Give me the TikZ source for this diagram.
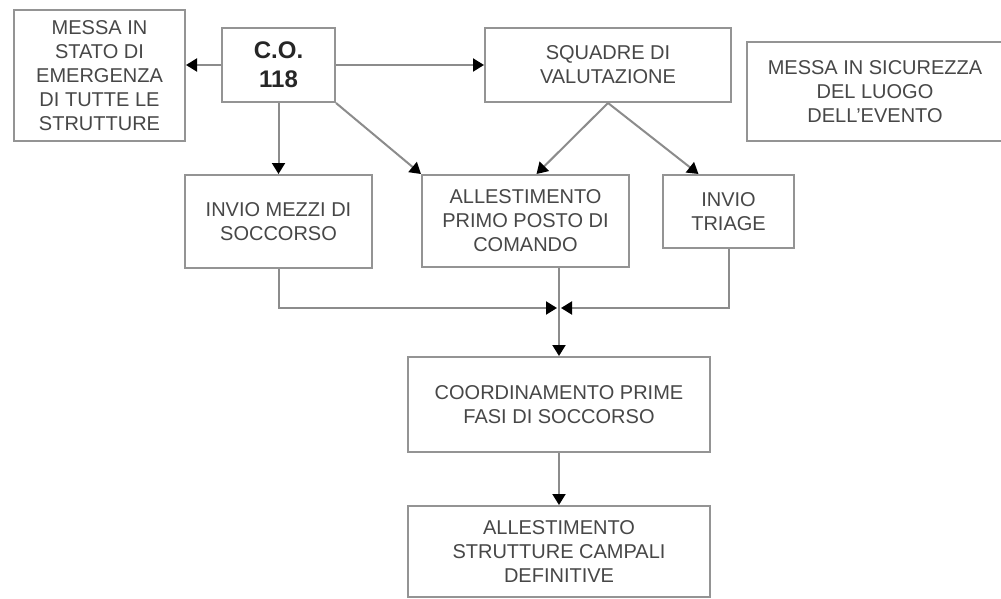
\documentclass[tikz,border=0pt]{standalone}
\usepackage{fontspec}
\setmainfont{Liberation Sans}
\usetikzlibrary{arrows.meta}
\begin{document}
\begin{tikzpicture}[x=1pt,y=-1pt,
  box/.style={draw=black!42,line width=2pt,inner sep=0pt,align=center,
    text=black!72,font=\fontsize{20}{24}\selectfont},
  conn/.style={draw=black!45,line width=2pt,
    -{Triangle[color=black,length=11pt,width=13pt]}}]
\useasboundingbox (0,0) rectangle (1001,599);
\fill[white] (0,0) rectangle (1001,599);
\node[box,minimum width=171pt,minimum height=131pt] (mse) at (99.5,75.5)
  {MESSA IN\\STATO DI\\EMERGENZA\\DI TUTTE LE\\STRUTTURE};
\node[box,minimum width=113pt,minimum height=74pt,text=black!85,
  font=\fontsize{24}{29}\selectfont\bfseries] (co) at (278.5,65) {C.O.\\118};
\node[box,minimum width=246pt,minimum height=74pt] (squ) at (608,65)
  {SQUADRE DI\\VALUTAZIONE};
\node[box,minimum width=256pt,minimum height=99pt] (sic) at (875,91.5)
  {MESSA IN SICUREZZA\\DEL LUOGO\\DELL'EVENTO};
\node[box,minimum width=187pt,minimum height=93pt] (mez) at (278.5,221.5)
  {INVIO MEZZI DI\\SOCCORSO};
\node[box,minimum width=207pt,minimum height=92pt] (all) at (525.5,221)
  {ALLESTIMENTO\\PRIMO POSTO DI\\COMANDO};
\node[box,minimum width=131pt,minimum height=73pt] (tri) at (728.5,211.5)
  {INVIO\\TRIAGE};
\node[box,minimum width=302pt,minimum height=95pt] (coo) at (559,404.5)
  {COORDINAMENTO PRIME\\FASI DI SOCCORSO};
\node[box,minimum width=302pt,minimum height=91pt] (cam) at (559,551.5)
  {ALLESTIMENTO\\STRUTTURE CAMPALI\\DEFINITIVE};
\coordinate (mL) at (557,308);
\coordinate (mR) at (561,308);
\draw[conn] (co.west) -- (co.west -| mse.east);
\draw[conn] (co.east) -- (co.east -| squ.west);
\draw[conn] (co.south) -- (mez.north);
\draw[conn] (co.south east) -- (all.north west);
\draw[conn] (squ.south) -- ([xshift=11pt]all.north);
\draw[conn] (squ.south) -- ([xshift=-30pt]tri.north);
\draw[conn] (mez.south) |- (mL);
\draw[conn] (tri.south) |- (mR);
\draw[conn] (all.south -| coo.north) -- (coo.north);
\draw[conn] (coo.south) -- (cam.north);
\end{tikzpicture}
\end{document}
